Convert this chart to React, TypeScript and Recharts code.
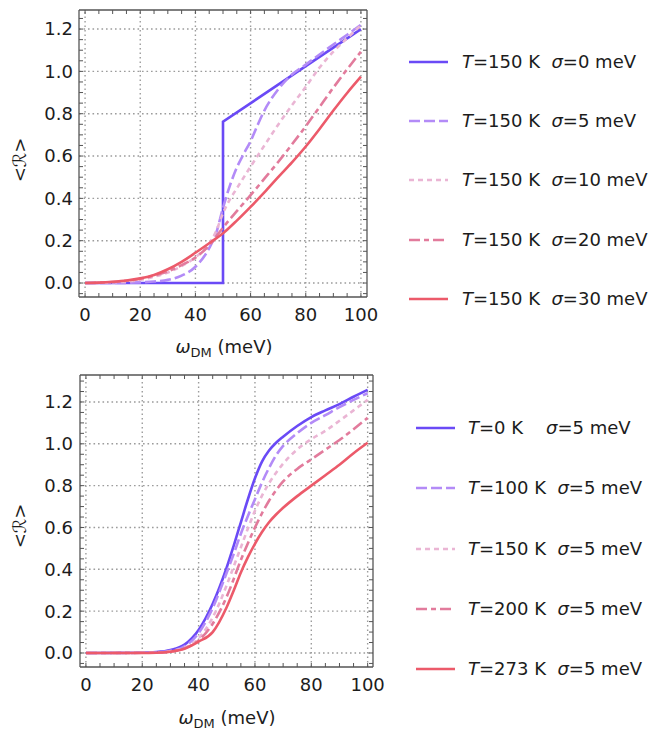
import React from 'react';
import { LineChart, Line, XAxis, YAxis, ReferenceLine, Legend, Label } from 'recharts';

const FONT = '"DejaVu Sans", Verdana, sans-serif';
const TEXT = '#1c1c1c';
const FRAME = '#555555';
const GRID = '#9c9c9c';

// ---------- axis ticks ----------
const xMajorTicks = [0, 20, 40, 60, 80, 100];
const xMinorTicks = [0, 5, 10, 15, 20, 25, 30, 35, 40, 45, 50, 55, 60, 65, 70, 75, 80, 85, 90, 95, 100];
const yMajorTicks = [0, 0.2, 0.4, 0.6, 0.8, 1.0, 1.2];
const yMinorTicksTop = [-0.05, 0, 0.05, 0.1, 0.15, 0.2, 0.25, 0.3, 0.35, 0.4, 0.45, 0.5, 0.55, 0.6, 0.65, 0.7, 0.75, 0.8, 0.85, 0.9, 0.95, 1.0, 1.05, 1.1, 1.15, 1.2, 1.25];
const yMinorTicksBottom = [...yMinorTicksTop, 1.3];

// ---------- top panel: T = 150 K, varying sigma ----------
const topS0X = [0, 50, 50, 75, 100];
const topS0Y = [0, 0, 0.762, 0.981, 1.2];

const topS5X = [0, 10, 20, 25, 30, 35, 40, 45, 47.5, 50, 52.5, 55, 57.5, 60, 62.5, 65, 67.5, 70, 75, 80, 85, 90, 95, 100];
const topS5Y = [0, 0, 0.003, 0.007, 0.015, 0.035, 0.077, 0.165, 0.235, 0.355, 0.46, 0.545, 0.61, 0.67, 0.745, 0.815, 0.87, 0.915, 0.985, 1.032, 1.08, 1.127, 1.173, 1.22];

const topS10X = [0, 10, 20, 25, 30, 35, 40, 45, 47.5, 50, 52.5, 55, 60, 65, 70, 75, 80, 85, 90, 95, 100];
const topS10Y = [0, 0.003, 0.015, 0.03, 0.05, 0.08, 0.122, 0.185, 0.245, 0.33, 0.395, 0.447, 0.55, 0.65, 0.748, 0.84, 0.927, 1.018, 1.093, 1.157, 1.218];

const topS20X = [0, 10, 20, 25, 30, 35, 40, 45, 50, 55, 60, 65, 70, 75, 80, 85, 90, 95, 100];
const topS20Y = [0, 0.005, 0.02, 0.035, 0.055, 0.085, 0.12, 0.178, 0.262, 0.34, 0.415, 0.493, 0.572, 0.655, 0.741, 0.832, 0.923, 1.01, 1.093];

const topS30X = [0, 5, 10, 15, 20, 25, 30, 35, 40, 45, 50, 55, 60, 65, 70, 75, 80, 85, 90, 95, 100];
const topS30Y = [0, 0.002, 0.006, 0.012, 0.022, 0.038, 0.065, 0.1, 0.143, 0.188, 0.235, 0.295, 0.36, 0.428, 0.5, 0.57, 0.645, 0.728, 0.815, 0.898, 0.975];

// ---------- bottom panel: sigma = 5 meV, varying T ----------
const botX = [0, 20, 25, 30, 35, 40, 45, 50, 52.5, 55, 57.5, 60, 62.5, 65, 67.5, 70, 75, 80, 85, 90, 95, 100];
const botT0Y = [0, 0.001, 0.004, 0.014, 0.04, 0.11, 0.235, 0.41, 0.515, 0.625, 0.735, 0.835, 0.915, 0.968, 1.005, 1.034, 1.085, 1.128, 1.16, 1.19, 1.225, 1.258];
const botT100Y = [0, 0.001, 0.003, 0.01, 0.032, 0.095, 0.215, 0.385, 0.475, 0.57, 0.655, 0.735, 0.815, 0.885, 0.945, 0.99, 1.051, 1.1, 1.137, 1.175, 1.21, 1.242];
const botT150Y = [0, 0.001, 0.002, 0.008, 0.025, 0.07, 0.17, 0.325, 0.415, 0.505, 0.595, 0.68, 0.752, 0.812, 0.862, 0.905, 0.973, 1.022, 1.062, 1.11, 1.16, 1.21];
const botT200Y = [0, 0.001, 0.002, 0.007, 0.022, 0.06, 0.14, 0.27, 0.355, 0.445, 0.525, 0.6, 0.668, 0.728, 0.778, 0.82, 0.88, 0.926, 0.972, 1.018, 1.07, 1.124];
const botT273Y = [0, 0, 0.001, 0.006, 0.02, 0.054, 0.1, 0.22, 0.3, 0.385, 0.458, 0.522, 0.578, 0.625, 0.662, 0.694, 0.75, 0.8, 0.85, 0.9, 0.955, 1.005];

// ---------- legend text ----------
const topLegendT = ['150', '150', '150', '150', '150'];
const topLegendSigma = ['0', '5', '10', '20', '30'];
const botLegendT = ['0', '100', '150', '200', '273'];
const botLegendSigma = ['5', '5', '5', '5', '5'];

// ---------- styles ----------
const styles = [
  { color: '#6a4af6', dash: undefined as string | undefined },
  { color: '#b38bf7', dash: '11 4' },
  { color: '#eab5d4', dash: '5 4' },
  { color: '#e27b9c', dash: '11 4 5 4' },
  { color: '#ec5a6a', dash: undefined as string | undefined },
];

const zip = (xs: number[], ys: number[]) => xs.map((x, i) => ({ x, y: ys[i] }));

const topSeries = [
  zip(topS0X, topS0Y),
  zip(topS5X, topS5Y),
  zip(topS10X, topS10Y),
  zip(topS20X, topS20Y),
  zip(topS30X, topS30Y),
];
const botSeries = [
  zip(botX, botT0Y),
  zip(botX, botT100Y),
  zip(botX, botT150Y),
  zip(botX, botT200Y),
  zip(botX, botT273Y),
];

const XTick = (props: any) => {
  const { x, y, payload } = props;
  const v = payload.value;
  if (!xMajorTicks.includes(v)) return <g />;
  return (
    <text x={x} y={y} dy="0.71em" textAnchor="middle" fontFamily={FONT} fontSize={18} fill={TEXT}>
      {v}
    </text>
  );
};

const YTick = (props: any) => {
  const { x, y, payload } = props;
  const v = payload.value;
  const isMajor = yMajorTicks.some((m) => Math.abs(m - v) < 1e-9);
  if (!isMajor) return <g />;
  return (
    <text x={x} y={y} dy="0.355em" textAnchor="end" fontFamily={FONT} fontSize={18} fill={TEXT}>
      {v.toFixed(1)}
    </text>
  );
};

const Empty = () => <g />;

type PanelProps = {
  series: { x: number; y: number }[][];
  stepFirst: boolean;
  xDomain: [number, number];
  yDomain: [number, number];
  yMinor: number[];
  margin: { top: number; right: number; bottom: number; left: number };
  xTitle: { x: number; y: number };
  yTitle: { x: number; y: number };
  legendPos: { left: number; top: number; rowH: number; lineW: number; gap: number };
  legendT: string[];
  legendSigma: string[];
  tickMarginY: number;
};

const Panel = (p: PanelProps) => {
  const legendContent = () => (
    <div style={{ fontFamily: FONT, fontSize: 18, color: TEXT }}>
      {styles.map((s, i) => {
        const tPart = `=${p.legendT[i]} K`;
        const spacer = p.legendT[i].length === 1 ? '    ' : '  ';
        return (
          <div key={i} style={{ display: 'flex', alignItems: 'center', height: p.legendPos.rowH }}>
            <svg width={p.legendPos.lineW} height={10} style={{ display: 'block' }}>
              <line
                x1={0}
                x2={p.legendPos.lineW}
                y1={5}
                y2={5}
                stroke={s.color}
                strokeWidth={2.6}
                strokeDasharray={s.dash}
              />
            </svg>
            <span style={{ marginLeft: p.legendPos.gap, whiteSpace: 'pre', lineHeight: 1 }}>
              <i>T</i>
              {tPart}
              {spacer}
              <i>σ</i>={p.legendSigma[i]} meV
            </span>
          </div>
        );
      })}
    </div>
  );

  return (
    <LineChart width={650} height={365} margin={p.margin}>
      <XAxis
        xAxisId="b"
        orientation="bottom"
        type="number"
        dataKey="x"
        domain={p.xDomain}
        allowDataOverflow
        ticks={xMinorTicks}
        interval={0}
        height={30}
        tick={XTick}
        tickSize={-4}
        tickMargin={15}
        axisLine={{ stroke: FRAME, strokeWidth: 1.3 }}
        tickLine={{ stroke: FRAME, strokeWidth: 1 }}
      >
        <Label
          content={() => (
            <text x={p.xTitle.x} y={p.xTitle.y} textAnchor="middle" fontFamily={FONT} fontSize={18} fill={TEXT}>
              <tspan fontStyle="italic">ω</tspan>
              <tspan fontSize={13} dy={4}>DM</tspan>
              <tspan dy={-4}> (meV)</tspan>
            </text>
          )}
        />
      </XAxis>
      <XAxis
        xAxisId="t"
        orientation="top"
        type="number"
        dataKey="x"
        domain={p.xDomain}
        allowDataOverflow
        ticks={xMinorTicks}
        interval={0}
        height={1}
        tick={Empty}
        tickSize={-4}
        axisLine={{ stroke: FRAME, strokeWidth: 1.3 }}
        tickLine={{ stroke: FRAME, strokeWidth: 1 }}
      />
      <YAxis
        yAxisId="l"
        orientation="left"
        type="number"
        domain={p.yDomain}
        allowDataOverflow
        ticks={p.yMinor}
        interval={0}
        width={50}
        tick={YTick}
        tickSize={-4}
        tickMargin={p.tickMarginY}
        axisLine={{ stroke: FRAME, strokeWidth: 1.3 }}
        tickLine={{ stroke: FRAME, strokeWidth: 1 }}
      >
        <Label
          content={() => (
            <text
              x={p.yTitle.x}
              y={p.yTitle.y}
              textAnchor="middle"
              fontFamily={FONT}
              fontSize={18}
              fill={TEXT}
              transform={`rotate(-90 ${p.yTitle.x} ${p.yTitle.y})`}
            >
              {'<ℛ>'}
            </text>
          )}
        />
      </YAxis>
      <YAxis
        yAxisId="r"
        orientation="right"
        type="number"
        domain={p.yDomain}
        allowDataOverflow
        ticks={p.yMinor}
        interval={0}
        width={1}
        tick={Empty}
        tickSize={-4}
        axisLine={{ stroke: FRAME, strokeWidth: 1.3 }}
        tickLine={{ stroke: FRAME, strokeWidth: 1 }}
      />
      {xMajorTicks.map((v) => (
        <ReferenceLine
          key={`gx${v}`}
          x={v}
          xAxisId="b"
          yAxisId="l"
          stroke={GRID}
          strokeWidth={1.4}
          strokeDasharray="1.6 2.9"
        />
      ))}
      {yMajorTicks.map((v) => (
        <ReferenceLine
          key={`gy${v}`}
          y={v}
          xAxisId="b"
          yAxisId="l"
          stroke={GRID}
          strokeWidth={1.4}
          strokeDasharray="1.6 2.9"
        />
      ))}
      {p.series.map((d, i) => (
        <Line
          key={i}
          data={d}
          dataKey="y"
          xAxisId="b"
          yAxisId="l"
          type={i === 0 && p.stepFirst ? 'linear' : 'monotone'}
          stroke={styles[i].color}
          strokeWidth={2.6}
          strokeDasharray={styles[i].dash}
          dot={false}
          activeDot={false}
          isAnimationActive={false}
        />
      ))}
      <Legend
        layout="vertical"
        align="center"
        verticalAlign="middle"
        content={legendContent}
        wrapperStyle={{ left: p.legendPos.left, top: p.legendPos.top, width: 245, height: 'auto' }}
      />
    </LineChart>
  );
};

export default function App() {
  return (
    <div style={{ position: 'absolute', left: 0, top: 0, width: 650, height: 730, background: '#fff' }}>
      <div style={{ position: 'absolute', left: 0, top: 0 }}>
        <Panel
          series={topSeries}
          stepFirst={true}
          xDomain={[-2.2, 102.2]}
          yDomain={[-0.066, 1.29]}
          yMinor={yMinorTicksTop}
          margin={{ top: 9, right: 282, bottom: 38, left: 29 }}
          xTitle={{ x: 224, y: 353 }}
          yTitle={{ x: 26, y: 160 }}
          legendPos={{ left: 409, top: 32, rowH: 59.3, lineW: 39, gap: 14 }}
          legendT={topLegendT}
          legendSigma={topLegendSigma}
          tickMarginY={10}
        />
      </div>
      <div style={{ position: 'absolute', left: 0, top: 365 }}>
        <Panel
          series={botSeries}
          stepFirst={false}
          xDomain={[-2.1, 101.9]}
          yDomain={[-0.067, 1.329]}
          yMinor={yMinorTicksBottom}
          margin={{ top: 9, right: 276, bottom: 33, left: 30 }}
          xTitle={{ x: 227, y: 359 }}
          yTitle={{ x: 26, y: 161 }}
          legendPos={{ left: 416, top: 33, rowH: 60.3, lineW: 39, gap: 13 }}
          legendT={botLegendT}
          legendSigma={botLegendSigma}
          tickMarginY={11}
        />
      </div>
    </div>
  );
}
